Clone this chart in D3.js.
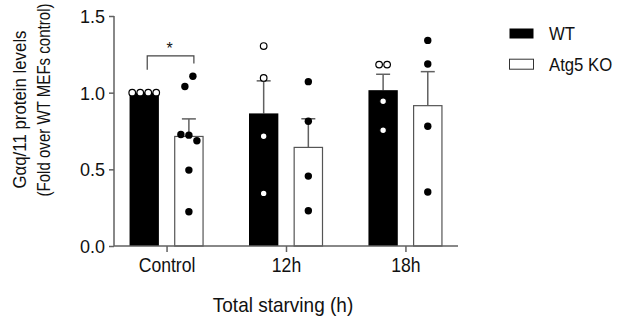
<!DOCTYPE html>
<html>
<head>
<meta charset="utf-8">
<script src="https://cdn.jsdelivr.net/npm/d3@7"></script>
<style>
  body { margin: 0; background: #fff; }
  svg { display: block; font-family: "Liberation Sans", Arial, sans-serif; }
</style>
</head>
<body>
<div id="visual"></div>
<script>
///// DATA /////
var groups = ["Control", "12h", "18h"];
var series = ["WT", "Atg5 KO"];
var yTicks = [0, 0.5, 1.0, 1.5];

// individual points per group, WT then KO
var wtControl = [1.0, 1.0, 1.0, 1.0];
var koControl = [1.04, 1.107, 0.727, 0.723, 0.686, 0.495, 0.223];
var wt12h = [1.304, 1.096, 0.716, 0.343];
var ko12h = [1.072, 0.814, 0.456, 0.23];
var wt18h = [1.183, 1.183, 0.944, 0.755];
var ko18h = [1.341, 1.187, 0.781, 0.352];

var points = [
  [wtControl, koControl],
  [wt12h, ko12h],
  [wt18h, ko18h]
];

// significance bracket (Control WT vs KO)
var sigLevels = [1.15, 1.24, 1.19]; // left leg end, top, right leg end
var sigLabel = "*";

///// DIMENSIONS /////
var margins = { left: 114, right: 168, top: 16, bottom: 77 };
var W = 626, H = 323;
var width = W - margins.left - margins.right,
	height = H - margins.top - margins.bottom;

var axisColor = "#616161";

var svg = d3.select("#visual").append("svg")
	.attr("width", W).attr("height", H);

var xScale = d3.scalePoint()
	.domain(groups)
	.range([margins.left, margins.left + width])
	.padding(0.44);

var subScale = d3.scaleBand()
	.domain(series)
	.range([-37, 37])
	.paddingInner(0.343);

var yScale = d3.scaleLinear()
	.domain([0, 1.5])
	.range([margins.top + height, margins.top]);

///// BARS /////
var fills = ["#000", "#fff"];
var stats = [];
groups.forEach(function(g, gi) {
	series.forEach(function(s, si) {
		var vals = points[gi][si];
		var m = d3.mean(vals);
		var sem = d3.deviation(vals) / Math.sqrt(vals.length);
		stats.push({ group: g, series: s, si: si, vals: vals, mean: m, sem: sem || 0 });
	});
});

var barG = svg.append("g");

// error bars (upper only)
var err = barG.selectAll(".err").data(stats).enter().append("g")
	.attr("stroke", axisColor).attr("stroke-width", 1.5);
err.append("line")
	.attr("x1", d => xScale(d.group) + subScale(d.series) + subScale.bandwidth() / 2)
	.attr("x2", d => xScale(d.group) + subScale(d.series) + subScale.bandwidth() / 2)
	.attr("y1", d => yScale(d.mean))
	.attr("y2", d => yScale(d.mean + d.sem));
err.append("line")
	.attr("x1", d => xScale(d.group) + subScale(d.series) + subScale.bandwidth() / 2 - 7)
	.attr("x2", d => xScale(d.group) + subScale(d.series) + subScale.bandwidth() / 2 + 7)
	.attr("y1", d => yScale(d.mean + d.sem))
	.attr("y2", d => yScale(d.mean + d.sem));

barG.selectAll(".bar").data(stats).enter().append("rect")
	.attr("x", d => xScale(d.group) + subScale(d.series) + (d.si ? 0.5 : 0))
	.attr("y", d => yScale(d.mean))
	.attr("width", d => subScale.bandwidth() - (d.si ? 1 : 0))
	.attr("height", d => yScale(0) - yScale(d.mean))
	.attr("fill", d => fills[d.si])
	.attr("stroke", d => d.si ? "#555" : "none")
	.attr("stroke-width", 1.2);

///// POINTS (simple beeswarm) /////
var spacing = 8, clusterGap = 12;
function swarm(d) {
	var cx = xScale(d.group) + subScale(d.series) + subScale.bandwidth() / 2;
	var items = d.vals.map((v, i) => ({ v: v, i: i, y: yScale(v) }));
	var sorted = items.slice().sort((a, b) => a.y - b.y);
	var clusters = [];
	sorted.forEach(function(p) {
		var c = clusters[clusters.length - 1];
		if (c && p.y - c[0].y < clusterGap) c.push(p);
		else clusters.push([p]);
	});
	clusters.forEach(function(c) {
		c.sort((a, b) => a.i - b.i);
		c.forEach(function(p, k) {
			p.x = cx + (k - (c.length - 1) / 2) * spacing;
		});
	});
	return items.map(p => ({ x: p.x, y: p.y, si: d.si }));
}

var dots = [];
stats.forEach(d => { dots = dots.concat(swarm(d)); });

svg.append("g").selectAll("circle").data(dots).enter().append("circle")
	.attr("cx", d => d.x)
	.attr("cy", d => d.y)
	.attr("r", d => d.si ? 3.7 : 3.3)
	.attr("fill", d => d.si ? "#000" : "#fff")
	.attr("stroke", "#000")
	.attr("stroke-width", d => d.si ? 0 : 1.2);

///// AXES /////
var yAxis = svg.append("g")
	.attr("transform", `translate(${margins.left},0)`)
	.call(d3.axisLeft(yScale).tickValues(yTicks).tickFormat(d3.format(".1f")).tickSize(5).tickPadding(4));
yAxis.selectAll("path, line").attr("stroke", axisColor).attr("stroke-width", 1.5);
yAxis.select(".domain").attr("d", `M0,${yScale(1.5)}V${yScale(0)}`);
yAxis.selectAll("text")
	.attr("fill", "#111")
	.style("font-size", "18px")
	.style("font-family", "Liberation Sans, Arial, sans-serif")
	.attr("dy", "0.36em");

var xAxis = svg.append("g")
	.attr("transform", `translate(0,${yScale(0)})`)
	.call(d3.axisBottom(xScale).tickSize(6).tickPadding(5));
xAxis.selectAll("path, line").attr("stroke", axisColor).attr("stroke-width", 1.5);
xAxis.select(".domain").attr("d", `M${margins.left},0H${margins.left + width}`);
xAxis.selectAll("text")
	.attr("fill", "#111")
	.style("font-size", "20px")
	.style("font-family", "Liberation Sans, Arial, sans-serif")
	.attr("transform", "scale(0.88,1)")
	.attr("dy", "0.76em");

svg.append("text")
	.attr("transform", `translate(283,${H - 11.5}) scale(0.95,1)`)
	.attr("text-anchor", "middle")
	.style("font-size", "20px")
	.attr("fill", "#111")
	.text("Total starving (h)");

var yTitle = ["Gαq/11 protein levels", "(Fold over WT MEFs control)"];
var yTitleX = [25.8, 49.8], yTitleY = [109.5, 100], yTitleScale = [0.91, 0.815];
svg.selectAll(".ytitle").data(yTitle).enter().append("text")
	.attr("transform", (d, i) => `translate(${yTitleX[i]},${yTitleY[i]}) rotate(-90) scale(${yTitleScale[i]},1)`)
	.attr("text-anchor", "middle")
	.style("font-size", "18.5px")
	.attr("fill", "#111")
	.text(d => d);

///// SIGNIFICANCE /////
var xL = xScale("Control") + subScale("WT") + subScale.bandwidth() / 2 + 3;
var xR = xScale("Control") + subScale("Atg5 KO") + subScale.bandwidth() / 2 + 5;
svg.append("path")
	.attr("d", `M${xL},${yScale(sigLevels[0])}V${yScale(sigLevels[1])}H${xR}V${yScale(sigLevels[2])}`)
	.attr("fill", "none")
	.attr("stroke", "#444")
	.attr("stroke-width", 1.2);
svg.append("text")
	.attr("x", (xL + xR) / 2 - 1)
	.attr("y", yScale(sigLevels[1]) - 1.5)
	.attr("text-anchor", "middle")
	.style("font-size", "16px")
	.attr("fill", "#111")
	.text(sigLabel);

///// LEGEND /////
var legend = svg.selectAll(".legend").data(series).enter().append("g")
	.attr("transform", (d, i) => `translate(509.5,${28.5 + i * 30.7})`);
legend.append("rect")
	.attr("width", 24).attr("height", 10)
	.attr("fill", (d, i) => fills[i])
	.attr("stroke", (d, i) => i ? "#333" : "none")
	.attr("stroke-width", 1);
legend.append("text")
	.attr("transform", "translate(39.5,11.5) scale(0.93,1)")
	.style("font-size", "18px")
	.attr("fill", "#111")
	.text(d => d);
</script>
</body>
</html>
